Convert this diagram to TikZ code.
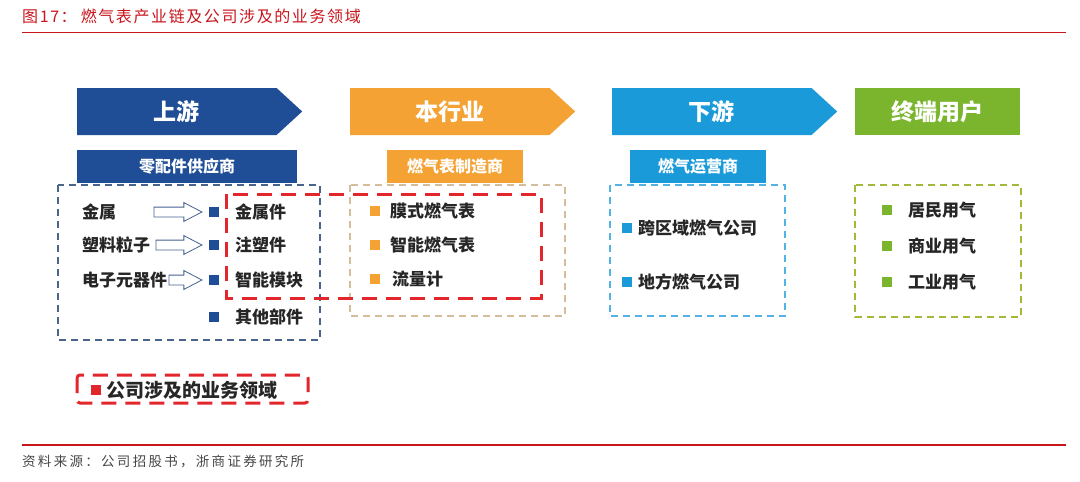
\documentclass[tikz,border=0pt]{standalone}
\usepackage{fontspec}
\newfontfamily\cjk{Noto Sans CJK SC}
\newfontfamily\cjktitle[LetterSpace=10]{Noto Sans CJK SC}
\newfontfamily\cjkwide[LetterSpace=17]{Noto Sans CJK SC}
\usetikzlibrary{shapes.arrows,shapes.symbols,positioning}

\definecolor{upblue}{HTML}{1F4E97}
\definecolor{midorange}{HTML}{F4A233}
\definecolor{downblue}{HTML}{1A9AD9}
\definecolor{endgreen}{HTML}{7AB52D}
\definecolor{hlred}{HTML}{E3262B}
\definecolor{titlered}{HTML}{C8161D}
\definecolor{bodytext}{HTML}{262626}

\tikzset{
  stage/.style={signal, signal to=east, signal pointer angle=85, fill=#1, text=white,
    minimum width=225pt, minimum height=47pt, inner sep=0pt, anchor=west,
    font=\cjk\bfseries\fontsize{23}{23}\selectfont},
  role/.style={fill=#1, text=white, minimum height=33pt, inner sep=0pt,
    font=\cjk\bfseries\fontsize{16}{16}\selectfont},
  group/.style={draw=#1, dash pattern=on 7pt off 5pt, line width=1.5pt},
  item/.style={anchor=west, inner sep=0pt, text=bodytext,
    font=\cjk\bfseries\fontsize{17}{17}\selectfont},
  bullet/.style={fill=#1, minimum size=10pt, inner sep=0pt},
  feed/.style={single arrow, draw=upblue!60!gray, fill=white, line width=0.8pt,
    single arrow head extend=4.5pt, single arrow tip angle=55, text height=9pt,
    inner sep=0pt, minimum height=#1, anchor=tip},
  focus/.style={draw=hlred, line width=3pt, dash pattern=on 15pt off 9pt},
}

\begin{document}
\begin{tikzpicture}[x=1pt,y=-1pt]
  \useasboundingbox[fill=white] (0,0) rectangle (1080,482);

  % title and rules
  \node[anchor=west, inner sep=0pt, text=titlered, font=\cjktitle\fontsize{16}{16}\selectfont]
    (title) at (22,16) {图17：\hspace{4pt}燃气表产业链及公司涉及的业务领域};
  \draw[titlered, line width=1.5pt] (22,32.5) -- (1066,32.5);
  \draw[titlered, line width=1.5pt] (22,445) -- (1066,445);
  \node[anchor=west, inner sep=0pt, text=bodytext!85, font=\cjkwide\fontsize{13.5}{13.5}\selectfont]
    (source) at (22,462) {资料来源：公司招股书，浙商证券研究所};

  % dashed groups
  \draw[group=upblue!55!gray] (58,185) rectangle (320,340);
  \draw[group=midorange!50!gray!60] (350,185) rectangle (565,316);
  \draw[group=downblue!75] (610,185) rectangle (785,316);
  \draw[group=endgreen!60!yellow!70!gray] (855,185) rectangle (1021,317);

  % chain stages
  \node[stage=upblue] (up) at (77,111.5) {上游};
  \node[stage=midorange] (mid) at (350,111.5) {本行业};
  \node[stage=downblue] (down) at (612,111.5) {下游};
  \node[fill=endgreen, text=white, minimum width=165pt, minimum height=47pt, inner sep=0pt,
    font=\cjk\bfseries\fontsize{23}{23}\selectfont] (enduser) at (937.5,111.5) {终端用户};

  \node[role=upblue, minimum width=220pt] (uprole) at (187,166.5) {零配件供应商};
  \node[role=midorange, minimum width=136pt] (midrole) at (455,166.5) {燃气表制造商};
  \node[role=downblue, minimum width=136pt] (downrole) at (698,166.5) {燃气运营商};

  % upstream
  \node[item] (metal) at (82,212) {金属};
  \node[item] (plastic) at (82,245) {塑料粒子};
  \node[item] (elec) at (82,280) {电子元器件};
  \node[bullet=upblue] (b1) at (214,212) {};
  \node[bullet=upblue] (b2) at (214,245) {};
  \node[bullet=upblue] (b3) at (214,280) {};
  \node[bullet=upblue] (b4) at (214,317) {};
  \node[item] (part1) at (235,212) {金属件};
  \node[item] (part2) at (235,245) {注塑件};
  \node[item] (part3) at (235,280) {智能模块};
  \node[item] (part4) at (235,317) {其他部件};
  \node[feed=48pt] (f1) at ([xshift=-6pt]b1.west) {};
  \node[feed=46pt] (f2) at ([xshift=-6pt]b2.west) {};
  \node[feed=33pt] (f3) at ([xshift=-6pt]b3.west) {};

  % meter makers
  \node[bullet=midorange] (m1) at (375,211) {};
  \node[bullet=midorange] (m2) at (375,245) {};
  \node[bullet=midorange] (m3) at (375,279) {};
  \node[item] (meter1) at (390,211) {膜式燃气表};
  \node[item] (meter2) at (390,245) {智能燃气表};
  \node[item] (meter3) at (392,279) {流量计};

  % operators
  \node[bullet=downblue] (d1) at (627,228) {};
  \node[bullet=downblue] (d2) at (627,282) {};
  \node[item] (oper1) at (638,228) {跨区域燃气公司};
  \node[item] (oper2) at (638,282) {地方燃气公司};

  % end users
  \node[bullet=endgreen] (e1) at (887,210) {};
  \node[bullet=endgreen] (e2) at (887,246) {};
  \node[bullet=endgreen] (e3) at (887,282) {};
  \node[item] (use1) at (908,210) {居民用气};
  \node[item] (use2) at (908,246) {商业用气};
  \node[item] (use3) at (908,282) {工业用气};

  % company scope
  \draw[focus] (226,194) rectangle (541,298);
  \draw[focus, rounded corners=3pt] (77,375) rectangle (308,403);
  \node[bullet=hlred] (key) at (96,390) {};
  \node[item, font=\cjk\bfseries\fontsize{19}{19}\selectfont] (keytext) at (106,390) {公司涉及的业务领域};
\end{tikzpicture}
\end{document}
